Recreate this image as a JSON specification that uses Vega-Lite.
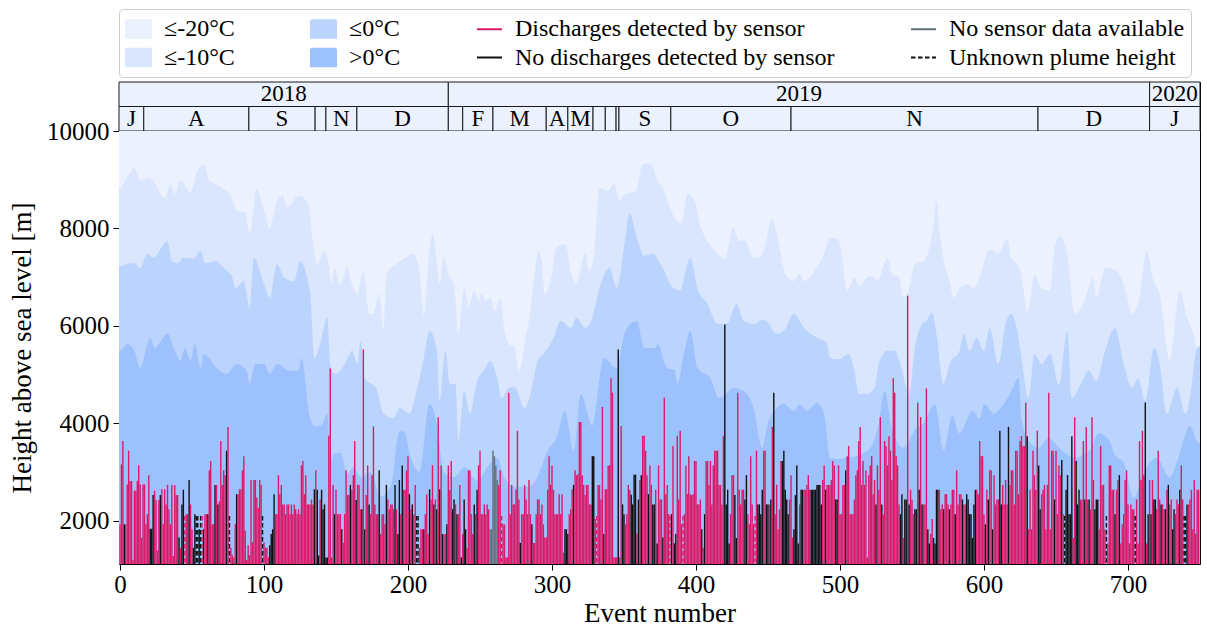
{
"$schema": "https://vega.github.io/schema/vega-lite/v6.json",
"padding": {"left": 8, "top": 8, "right": 5, "bottom": 0},
"background": "white",
"spacing": 0,
"bounds": "flush",
"datasets": {
"years": [{"s":-0.7,"e":228,"t":"2018"},{"s":228,"e":715,"t":"2019"},{"s":715,"e":750,"t":"2020"}],
"months": [{"s":-0.7,"e":16.5,"t":"J"},{"s":16.5,"e":89.5,"t":"A"},{"s":89.5,"e":135.5,"t":"S"},{"s":135.5,"e":143,"t":""},{"s":143,"e":164.5,"t":"N"},{"s":164.5,"e":228,"t":"D"},{"s":228,"e":238,"t":""},{"s":238,"e":259,"t":"F"},{"s":259,"e":296,"t":"M"},{"s":296,"e":311,"t":"A"},{"s":311,"e":328.5,"t":"M"},{"s":328.5,"e":337,"t":""},{"s":337,"e":344.5,"t":""},{"s":344.5,"e":346.5,"t":""},{"s":346.5,"e":382.5,"t":"S"},{"s":382.5,"e":466,"t":"O"},{"s":466,"e":637.5,"t":"N"},{"s":637.5,"e":715,"t":"D"},{"s":715,"e":750,"t":"J"}],
"t20": [{"x":-1,"h":8830},{"x":0,"h":8830},{"x":5,"h":9050},{"x":10,"h":9240},{"x":14,"h":8980},{"x":19,"h":9040},{"x":23,"h":8980},{"x":31,"h":8630},{"x":35,"h":8910},{"x":38,"h":8710},{"x":42,"h":8980},{"x":49,"h":8730},{"x":53,"h":9120},{"x":58,"h":9320},{"x":62,"h":8980},{"x":67,"h":8910},{"x":72,"h":8810},{"x":78,"h":8610},{"x":81,"h":8360},{"x":87,"h":8320},{"x":90,"h":7890},{"x":95,"h":8810},{"x":100,"h":8360},{"x":104,"h":8010},{"x":109,"h":8560},{"x":113,"h":8670},{"x":116,"h":8420},{"x":124,"h":8670},{"x":131,"h":8500},{"x":133,"h":7950},{"x":137,"h":7270},{"x":142,"h":7540},{"x":145,"h":7270},{"x":147,"h":6860},{"x":149,"h":7170},{"x":153,"h":6860},{"x":158,"h":7190},{"x":161,"h":6860},{"x":165,"h":6660},{"x":169,"h":7130},{"x":173,"h":6250},{"x":176,"h":6250},{"x":180,"h":6660},{"x":183,"h":5900},{"x":185,"h":7070},{"x":192,"h":7270},{"x":197,"h":7380},{"x":204,"h":7480},{"x":208,"h":7070},{"x":211,"h":6210},{"x":215,"h":7540},{"x":217,"h":7890},{"x":219,"h":7540},{"x":222,"h":6860},{"x":225,"h":7400},{"x":228,"h":7070},{"x":232,"h":6860},{"x":235,"h":5840},{"x":239,"h":6780},{"x":242,"h":6370},{"x":246,"h":6720},{"x":249,"h":6510},{"x":251,"h":6660},{"x":254,"h":6510},{"x":257,"h":6580},{"x":260,"h":6310},{"x":264,"h":6580},{"x":267,"h":5900},{"x":270,"h":5630},{"x":274,"h":5570},{"x":277,"h":5080},{"x":281,"h":5630},{"x":285,"h":6310},{"x":288,"h":7130},{"x":291,"h":7540},{"x":293,"h":7270},{"x":295,"h":6660},{"x":300,"h":7070},{"x":303,"h":7600},{"x":309,"h":7680},{"x":314,"h":6990},{"x":317,"h":6860},{"x":323,"h":7480},{"x":326,"h":7130},{"x":330,"h":7680},{"x":333,"h":8830},{"x":338,"h":8770},{"x":343,"h":8910},{"x":347,"h":8560},{"x":351,"h":8720},{"x":358,"h":8750},{"x":363,"h":9320},{"x":368,"h":9340},{"x":374,"h":8950},{"x":378,"h":8770},{"x":382,"h":8420},{"x":387,"h":8150},{"x":390,"h":8120},{"x":394,"h":8710},{"x":399,"h":8560},{"x":402,"h":8150},{"x":408,"h":7740},{"x":413,"h":7540},{"x":420,"h":7380},{"x":426,"h":8010},{"x":430,"h":7750},{"x":434,"h":7750},{"x":440,"h":7400},{"x":446,"h":7460},{"x":453,"h":8200},{"x":458,"h":7600},{"x":462,"h":7070},{"x":468,"h":6920},{"x":472,"h":7070},{"x":475,"h":6920},{"x":482,"h":7120},{"x":489,"h":7480},{"x":493,"h":7800},{"x":498,"h":7800},{"x":500,"h":7680},{"x":505,"h":6720},{"x":510,"h":6990},{"x":513,"h":6820},{"x":521,"h":7030},{"x":526,"h":6930},{"x":533,"h":7400},{"x":536,"h":7060},{"x":541,"h":6990},{"x":544,"h":6580},{"x":548,"h":6780},{"x":552,"h":7270},{"x":558,"h":7330},{"x":562,"h":7600},{"x":565,"h":8090},{"x":567,"h":8560},{"x":569,"h":7950},{"x":572,"h":7330},{"x":576,"h":6920},{"x":579,"h":6580},{"x":583,"h":6780},{"x":588,"h":6850},{"x":593,"h":6780},{"x":597,"h":6990},{"x":604,"h":7580},{"x":610,"h":7480},{"x":616,"h":7790},{"x":619,"h":7400},{"x":623,"h":7270},{"x":626,"h":7070},{"x":630,"h":6310},{"x":633,"h":6720},{"x":635,"h":7070},{"x":639,"h":6790},{"x":646,"h":6720},{"x":649,"h":7600},{"x":653,"h":7850},{"x":658,"h":7400},{"x":663,"h":6250},{"x":669,"h":6450},{"x":676,"h":6990},{"x":678,"h":6580},{"x":684,"h":7190},{"x":692,"h":7130},{"x":697,"h":6860},{"x":703,"h":6250},{"x":708,"h":6580},{"x":713,"h":7540},{"x":717,"h":6990},{"x":722,"h":6650},{"x":729,"h":5280},{"x":732,"h":5900},{"x":736,"h":6720},{"x":741,"h":6170},{"x":746,"h":5760},{"x":749,"h":5220},{"x":751,"h":5100}],
"t10": [{"x":-1,"h":7230},{"x":0,"h":7230},{"x":5,"h":7270},{"x":10,"h":7290},{"x":14,"h":7190},{"x":19,"h":7480},{"x":23,"h":7400},{"x":33,"h":7740},{"x":36,"h":7330},{"x":40,"h":7290},{"x":44,"h":7400},{"x":51,"h":7380},{"x":56,"h":7540},{"x":59,"h":7290},{"x":67,"h":7330},{"x":72,"h":7190},{"x":78,"h":6990},{"x":80,"h":6780},{"x":86,"h":6920},{"x":90,"h":6370},{"x":93,"h":7400},{"x":100,"h":6860},{"x":104,"h":6580},{"x":109,"h":7270},{"x":114,"h":6990},{"x":121,"h":6920},{"x":125,"h":7330},{"x":132,"h":6660},{"x":135,"h":5340},{"x":139,"h":5630},{"x":144,"h":6170},{"x":146,"h":5220},{"x":149,"h":5020},{"x":153,"h":5080},{"x":158,"h":5340},{"x":161,"h":5490},{"x":165,"h":5220},{"x":167,"h":5690},{"x":170,"h":4930},{"x":178,"h":4730},{"x":183,"h":4200},{"x":190,"h":4110},{"x":194,"h":4320},{"x":201,"h":4200},{"x":206,"h":4670},{"x":211,"h":5340},{"x":215,"h":5900},{"x":220,"h":5490},{"x":222,"h":4460},{"x":226,"h":5490},{"x":229,"h":4810},{"x":233,"h":4810},{"x":235,"h":3640},{"x":239,"h":4670},{"x":243,"h":4200},{"x":248,"h":4870},{"x":253,"h":5100},{"x":257,"h":5280},{"x":262,"h":4930},{"x":265,"h":4520},{"x":270,"h":4730},{"x":274,"h":4750},{"x":281,"h":4320},{"x":285,"h":4600},{"x":290,"h":5280},{"x":294,"h":5420},{"x":301,"h":5760},{"x":306,"h":6100},{"x":313,"h":5960},{"x":317,"h":6170},{"x":323,"h":5960},{"x":328,"h":6170},{"x":333,"h":6780},{"x":340,"h":7190},{"x":345,"h":6780},{"x":350,"h":7600},{"x":354,"h":8300},{"x":359,"h":7800},{"x":364,"h":7440},{"x":371,"h":7480},{"x":374,"h":7330},{"x":378,"h":7130},{"x":382,"h":6860},{"x":387,"h":6740},{"x":389,"h":6720},{"x":394,"h":7270},{"x":396,"h":7400},{"x":401,"h":6780},{"x":408,"h":6450},{"x":415,"h":6040},{"x":422,"h":6060},{"x":428,"h":6450},{"x":433,"h":6120},{"x":440,"h":6040},{"x":446,"h":6130},{"x":449,"h":6100},{"x":456,"h":5840},{"x":461,"h":5900},{"x":468,"h":6250},{"x":475,"h":5960},{"x":484,"h":5760},{"x":491,"h":5640},{"x":493,"h":5340},{"x":499,"h":5320},{"x":506,"h":5420},{"x":510,"h":5080},{"x":513,"h":4610},{"x":519,"h":4610},{"x":524,"h":4740},{"x":527,"h":5220},{"x":533,"h":5490},{"x":538,"h":5490},{"x":542,"h":5220},{"x":548,"h":4610},{"x":552,"h":5550},{"x":557,"h":6040},{"x":560,"h":6100},{"x":564,"h":6270},{"x":567,"h":5830},{"x":572,"h":4810},{"x":576,"h":5220},{"x":583,"h":5490},{"x":586,"h":5840},{"x":590,"h":5490},{"x":595,"h":5760},{"x":600,"h":5490},{"x":604,"h":5960},{"x":610,"h":5220},{"x":615,"h":6040},{"x":619,"h":6250},{"x":623,"h":5900},{"x":626,"h":5350},{"x":631,"h":4520},{"x":635,"h":5430},{"x":640,"h":5220},{"x":646,"h":5430},{"x":652,"h":4800},{"x":658,"h":5900},{"x":661,"h":4520},{"x":667,"h":4800},{"x":673,"h":5080},{"x":678,"h":4870},{"x":684,"h":5490},{"x":691,"h":5960},{"x":697,"h":5220},{"x":703,"h":4730},{"x":707,"h":4930},{"x":712,"h":4460},{"x":718,"h":5550},{"x":722,"h":5220},{"x":727,"h":4200},{"x":734,"h":4730},{"x":740,"h":4200},{"x":743,"h":4530},{"x":748,"h":5550},{"x":751,"h":5600}],
"t0": [{"x":-1,"h":5490},{"x":0,"h":5490},{"x":5,"h":5630},{"x":10,"h":5490},{"x":14,"h":5140},{"x":21,"h":5760},{"x":24,"h":5550},{"x":33,"h":5840},{"x":38,"h":5490},{"x":42,"h":5280},{"x":45,"h":5550},{"x":49,"h":5280},{"x":52,"h":5630},{"x":56,"h":5140},{"x":58,"h":5430},{"x":62,"h":5340},{"x":67,"h":5140},{"x":74,"h":5020},{"x":81,"h":5220},{"x":88,"h":5080},{"x":90,"h":4810},{"x":94,"h":5220},{"x":100,"h":5220},{"x":104,"h":5020},{"x":109,"h":5220},{"x":118,"h":5080},{"x":124,"h":5080},{"x":126,"h":5340},{"x":132,"h":4110},{"x":135,"h":3950},{"x":140,"h":3970},{"x":144,"h":4200},{"x":146,"h":3230},{"x":149,"h":3380},{"x":153,"h":3400},{"x":158,"h":2970},{"x":162,"h":3100},{"x":167,"h":2900},{"x":174,"h":3000},{"x":181,"h":2500},{"x":188,"h":2700},{"x":194,"h":3840},{"x":197,"h":3840},{"x":202,"h":3300},{"x":208,"h":3000},{"x":215,"h":4400},{"x":220,"h":4000},{"x":225,"h":3000},{"x":232,"h":2900},{"x":239,"h":3100},{"x":248,"h":2820},{"x":255,"h":3100},{"x":262,"h":3300},{"x":267,"h":2900},{"x":274,"h":2700},{"x":283,"h":2700},{"x":288,"h":2800},{"x":297,"h":3440},{"x":303,"h":3700},{"x":309,"h":4260},{"x":315,"h":3440},{"x":320,"h":4600},{"x":328,"h":3950},{"x":336,"h":5340},{"x":345,"h":5140},{"x":351,"h":5900},{"x":359,"h":6100},{"x":364,"h":5550},{"x":371,"h":5550},{"x":374,"h":5630},{"x":377,"h":5340},{"x":380,"h":5140},{"x":385,"h":5100},{"x":387,"h":4810},{"x":392,"h":5490},{"x":396,"h":5900},{"x":401,"h":5140},{"x":410,"h":4930},{"x":416,"h":4520},{"x":419,"h":4560},{"x":426,"h":4730},{"x":433,"h":4670},{"x":440,"h":4320},{"x":446,"h":3500},{"x":449,"h":3900},{"x":456,"h":4320},{"x":461,"h":4400},{"x":468,"h":4260},{"x":472,"h":4400},{"x":477,"h":4260},{"x":484,"h":4420},{"x":489,"h":4200},{"x":493,"h":3290},{"x":499,"h":3270},{"x":506,"h":3300},{"x":517,"h":3400},{"x":521,"h":3500},{"x":527,"h":4000},{"x":531,"h":4670},{"x":536,"h":3900},{"x":544,"h":3500},{"x":553,"h":3900},{"x":558,"h":4000},{"x":566,"h":4400},{"x":572,"h":3440},{"x":578,"h":4160},{"x":583,"h":3800},{"x":592,"h":4260},{"x":597,"h":4100},{"x":600,"h":4400},{"x":607,"h":4200},{"x":611,"h":4300},{"x":618,"h":4610},{"x":624,"h":4930},{"x":626,"h":4100},{"x":631,"h":3640},{"x":638,"h":3500},{"x":645,"h":3700},{"x":652,"h":3500},{"x":663,"h":3300},{"x":673,"h":3440},{"x":680,"h":3800},{"x":687,"h":3640},{"x":691,"h":3350},{"x":697,"h":3200},{"x":704,"h":2470},{"x":711,"h":3000},{"x":720,"h":3290},{"x":729,"h":2900},{"x":735,"h":3300},{"x":743,"h":3950},{"x":749,"h":3600},{"x":751,"h":3600}],
"bars": [
{"x":0,"h":1930,"c":"p"},{"x":1,"h":3160,"c":"p"},{"x":2,"h":3640,"c":"p"},{"x":3,"h":1930,"c":"k"},{"x":4,"h":1930,"c":"p"},{"x":5,"h":2750,"c":"p"},{"x":6,"h":3440,"c":"p"},{"x":7,"h":2820,"c":"p"},{"x":8,"h":2820,"c":"p"},{"x":9,"h":1200,"c":"p"},
{"x":10,"h":2620,"c":"p"},{"x":11,"h":2620,"c":"p"},{"x":12,"h":2820,"c":"p"},{"x":13,"h":3140,"c":"p"},{"x":14,"h":2750,"c":"p"},{"x":15,"h":1660,"c":"p"},{"x":16,"h":2750,"c":"p"},{"x":17,"h":2750,"c":"p"},{"x":18,"h":1930,"c":"p"},{"x":19,"h":2140,"c":"p"},
{"x":20,"h":2940,"c":"p"},{"x":21,"h":1840,"c":"k"},{"x":22,"h":1840,"c":"k"},{"x":23,"h":2530,"c":"k"},{"x":24,"h":2620,"c":"p"},{"x":25,"h":2430,"c":"p"},{"x":26,"h":1390,"c":"p"},{"x":27,"h":2430,"c":"p"},{"x":28,"h":2530,"c":"k"},{"x":29,"h":2650,"c":"p"},
{"x":30,"h":1930,"c":"p"},{"x":31,"h":2650,"c":"p"},{"x":32,"h":2340,"c":"p"},{"x":33,"h":2740,"c":"p"},{"x":34,"h":2240,"c":"p"},{"x":35,"h":1930,"c":"p"},{"x":36,"h":2740,"c":"p"},{"x":37,"h":1280,"c":"p"},{"x":38,"h":2740,"c":"p"},{"x":39,"h":2530,"c":"p"},
{"x":40,"h":2530,"c":"p"},{"x":41,"h":1660,"c":"k"},{"x":42,"h":1450,"c":"p"},{"x":43,"h":2340,"c":"k"},{"x":44,"h":2640,"c":"k"},{"x":45,"h":2100,"c":"p","u":1},{"x":46,"h":2140,"c":"p"},{"x":47,"h":2140,"c":"p"},{"x":48,"h":2840,"c":"k"},{"x":49,"h":2340,"c":"p"},
{"x":50,"h":1830,"c":"p"},{"x":51,"h":1450,"c":"k"},{"x":52,"h":2140,"c":"k"},{"x":53,"h":2100,"c":"k","u":1},{"x":54,"h":2100,"c":"k","u":1},{"x":55,"h":1830,"c":"k"},{"x":56,"h":2100,"c":"k","u":1},{"x":57,"h":2100,"c":"p","u":1},{"x":58,"h":1830,"c":"k"},{"x":59,"h":2140,"c":"p"},
{"x":60,"h":2140,"c":"p"},{"x":61,"h":2140,"c":"k"},{"x":62,"h":3040,"c":"p"},{"x":63,"h":3230,"c":"p"},{"x":64,"h":1930,"c":"p"},{"x":65,"h":1930,"c":"p"},{"x":66,"h":2740,"c":"k"},{"x":67,"h":2740,"c":"p"},{"x":68,"h":2340,"c":"k"},{"x":69,"h":2400,"c":"p"},
{"x":70,"h":3640,"c":"p"},{"x":71,"h":2740,"c":"p"},{"x":72,"h":3040,"c":"p"},{"x":73,"h":2940,"c":"p"},{"x":74,"h":3440,"c":"k"},{"x":75,"h":3930,"c":"p"},{"x":76,"h":2100,"c":"k","u":1},{"x":77,"h":1450,"c":"p"},{"x":78,"h":1300,"c":"p"},{"x":79,"h":1250,"c":"p"},
{"x":80,"h":1930,"c":"p"},{"x":81,"h":2550,"c":"k"},{"x":82,"h":2550,"c":"p"},{"x":83,"h":2650,"c":"p"},{"x":84,"h":2650,"c":"p"},{"x":85,"h":3040,"c":"p"},{"x":86,"h":3330,"c":"p"},{"x":87,"h":1800,"c":"p"},{"x":88,"h":1200,"c":"p"},{"x":89,"h":1500,"c":"p"},
{"x":90,"h":1300,"c":"p"},{"x":91,"h":2840,"c":"p"},{"x":92,"h":1560,"c":"p"},{"x":93,"h":2840,"c":"p"},{"x":94,"h":2840,"c":"p"},{"x":95,"h":2480,"c":"p"},{"x":96,"h":2270,"c":"p"},{"x":97,"h":2840,"c":"p"},{"x":98,"h":2740,"c":"p"},{"x":99,"h":2100,"c":"k","u":1},
{"x":100,"h":1560,"c":"p"},{"x":101,"h":1450,"c":"p"},{"x":102,"h":1450,"c":"p"},{"x":103,"h":1250,"c":"p"},{"x":104,"h":1500,"c":"k"},{"x":105,"h":1730,"c":"k"},{"x":106,"h":1830,"c":"k"},{"x":107,"h":2550,"c":"k"},{"x":108,"h":2140,"c":"p"},{"x":109,"h":2140,"c":"p"},
{"x":110,"h":2940,"c":"p"},{"x":111,"h":2550,"c":"p"},{"x":112,"h":2740,"c":"p"},{"x":113,"h":2340,"c":"p"},{"x":114,"h":2340,"c":"p"},{"x":115,"h":2140,"c":"p"},{"x":116,"h":2340,"c":"p"},{"x":117,"h":2340,"c":"p"},{"x":118,"h":2140,"c":"p"},{"x":119,"h":2340,"c":"p"},
{"x":120,"h":2140,"c":"p"},{"x":121,"h":2340,"c":"p"},{"x":122,"h":2240,"c":"p"},{"x":123,"h":2140,"c":"p"},{"x":124,"h":2240,"c":"p"},{"x":125,"h":2140,"c":"p"},{"x":126,"h":3140,"c":"p"},{"x":127,"h":3230,"c":"p"},{"x":128,"h":2550,"c":"p"},{"x":129,"h":2940,"c":"p"},
{"x":130,"h":2340,"c":"p"},{"x":131,"h":2340,"c":"p"},{"x":132,"h":2340,"c":"p"},{"x":133,"h":2440,"c":"p"},{"x":134,"h":2340,"c":"p"},{"x":135,"h":2650,"c":"k"},{"x":136,"h":3040,"c":"p"},{"x":137,"h":2640,"c":"k"},{"x":138,"h":1290,"c":"k"},{"x":139,"h":2440,"c":"p"},
{"x":140,"h":2640,"c":"k"},{"x":141,"h":2240,"c":"k"},{"x":142,"h":2340,"c":"k"},{"x":143,"h":1250,"c":"k"},{"x":144,"h":1250,"c":"k"},{"x":145,"h":3750,"c":"p"},{"x":146,"h":5130,"c":"p"},{"x":147,"h":1250,"c":"p"},{"x":148,"h":2740,"c":"p"},{"x":149,"h":2140,"c":"k"},
{"x":150,"h":2640,"c":"p"},{"x":151,"h":2140,"c":"p"},{"x":152,"h":2140,"c":"p"},{"x":153,"h":2140,"c":"p"},{"x":154,"h":1830,"c":"k"},{"x":155,"h":1550,"c":"p"},{"x":156,"h":2140,"c":"p"},{"x":157,"h":3040,"c":"p"},{"x":158,"h":2530,"c":"p"},{"x":159,"h":2530,"c":"p"},
{"x":160,"h":2740,"c":"k"},{"x":161,"h":2640,"c":"p"},{"x":162,"h":2940,"c":"p"},{"x":163,"h":3640,"c":"p"},{"x":164,"h":2430,"c":"k"},{"x":165,"h":2740,"c":"p"},{"x":166,"h":2740,"c":"p"},{"x":167,"h":2240,"c":"p"},{"x":168,"h":2240,"c":"k"},{"x":169,"h":5520,"c":"p"},
{"x":170,"h":1830,"c":"k"},{"x":171,"h":2530,"c":"p"},{"x":172,"h":3140,"c":"p"},{"x":173,"h":2340,"c":"k"},{"x":174,"h":2140,"c":"p"},{"x":175,"h":2940,"c":"p"},{"x":176,"h":3940,"c":"p"},{"x":177,"h":2340,"c":"p"},{"x":178,"h":2140,"c":"p"},{"x":179,"h":2140,"c":"p"},
{"x":180,"h":3040,"c":"k"},{"x":181,"h":1730,"c":"p"},{"x":182,"h":2140,"c":"p"},{"x":183,"h":2140,"c":"p"},{"x":184,"h":1930,"c":"p"},{"x":185,"h":2740,"c":"k"},{"x":186,"h":2440,"c":"p"},{"x":187,"h":2240,"c":"p"},{"x":188,"h":2340,"c":"p"},{"x":189,"h":2340,"c":"p"},
{"x":190,"h":2240,"c":"p"},{"x":191,"h":2740,"c":"k"},{"x":192,"h":2240,"c":"p"},{"x":193,"h":1730,"c":"k"},{"x":194,"h":2840,"c":"k"},{"x":195,"h":2140,"c":"p"},{"x":196,"h":3140,"c":"k"},{"x":197,"h":2640,"c":"p"},{"x":198,"h":2640,"c":"p"},{"x":199,"h":3040,"c":"p"},
{"x":200,"h":3330,"c":"p"},{"x":201,"h":2550,"c":"k"},{"x":202,"h":2240,"c":"p"},{"x":203,"h":2340,"c":"k"},{"x":204,"h":2140,"c":"p"},{"x":205,"h":2740,"c":"p"},{"x":206,"h":2100,"c":"k","u":1},{"x":207,"h":2100,"c":"k","u":1},{"x":208,"h":1450,"c":"p"},{"x":209,"h":1830,"c":"p"},
{"x":210,"h":1830,"c":"p"},{"x":211,"h":1830,"c":"k"},{"x":212,"h":2140,"c":"p"},{"x":213,"h":2550,"c":"p"},{"x":214,"h":1730,"c":"p"},{"x":215,"h":2650,"c":"k"},{"x":216,"h":2440,"c":"p"},{"x":217,"h":3140,"c":"p"},{"x":218,"h":2340,"c":"k"},{"x":219,"h":2440,"c":"p"},
{"x":220,"h":2240,"c":"k"},{"x":221,"h":4130,"c":"p"},{"x":222,"h":2650,"c":"k"},{"x":223,"h":3140,"c":"p"},{"x":224,"h":1730,"c":"k"},{"x":225,"h":1730,"c":"p"},{"x":226,"h":1730,"c":"p"},{"x":227,"h":1930,"c":"k"},{"x":228,"h":3140,"c":"p"},{"x":229,"h":2640,"c":"p"},
{"x":230,"h":3230,"c":"p"},{"x":231,"h":2240,"c":"k"},{"x":232,"h":2440,"c":"k"},{"x":233,"h":2340,"c":"p"},{"x":234,"h":2140,"c":"k"},{"x":235,"h":2140,"c":"p"},{"x":236,"h":2740,"c":"p"},{"x":237,"h":1250,"c":"k"},{"x":238,"h":1730,"c":"p"},{"x":239,"h":2440,"c":"k"},
{"x":240,"h":1830,"c":"k"},{"x":241,"h":1450,"c":"p"},{"x":242,"h":3040,"c":"p"},{"x":243,"h":3040,"c":"p"},{"x":244,"h":2140,"c":"p"},{"x":245,"h":1730,"c":"p"},{"x":246,"h":2340,"c":"k"},{"x":247,"h":2140,"c":"p"},{"x":248,"h":2640,"c":"k"},{"x":249,"h":3140,"c":"p"},
{"x":250,"h":3440,"c":"p"},{"x":251,"h":2140,"c":"p"},{"x":252,"h":2140,"c":"p"},{"x":253,"h":2340,"c":"p"},{"x":254,"h":2140,"c":"p"},{"x":255,"h":2340,"c":"p"},{"x":256,"h":2240,"c":"p"},{"x":257,"h":1830,"c":"g"},{"x":258,"h":1830,"c":"g"},{"x":259,"h":3440,"c":"g"},
{"x":260,"h":3330,"c":"g"},{"x":261,"h":3140,"c":"g"},{"x":262,"h":2840,"c":"g"},{"x":263,"h":2740,"c":"p"},{"x":264,"h":3040,"c":"p"},{"x":265,"h":2100,"c":"p","u":1},{"x":266,"h":1930,"c":"p"},{"x":267,"h":1930,"c":"p"},{"x":268,"h":1250,"c":"p"},{"x":269,"h":1250,"c":"p"},
{"x":270,"h":4630,"c":"p"},{"x":271,"h":2140,"c":"p"},{"x":272,"h":2740,"c":"p"},{"x":273,"h":2340,"c":"p"},{"x":274,"h":2340,"c":"p"},{"x":275,"h":2640,"c":"p"},{"x":276,"h":3850,"c":"p"},{"x":277,"h":2440,"c":"p"},{"x":278,"h":1550,"c":"k"},{"x":279,"h":2140,"c":"p"},
{"x":280,"h":2140,"c":"p"},{"x":281,"h":2740,"c":"p"},{"x":282,"h":2440,"c":"p"},{"x":283,"h":2140,"c":"p"},{"x":284,"h":2840,"c":"p"},{"x":285,"h":2140,"c":"p"},{"x":286,"h":1930,"c":"k"},{"x":287,"h":1550,"c":"p"},{"x":288,"h":1550,"c":"p"},{"x":289,"h":2140,"c":"p"},
{"x":290,"h":2440,"c":"p"},{"x":291,"h":2440,"c":"p"},{"x":292,"h":2140,"c":"p"},{"x":293,"h":2340,"c":"p"},{"x":294,"h":1930,"c":"p"},{"x":295,"h":1660,"c":"p"},{"x":296,"h":1660,"c":"p"},{"x":297,"h":2640,"c":"p"},{"x":298,"h":3330,"c":"p"},{"x":299,"h":2740,"c":"p"},
{"x":300,"h":3140,"c":"p"},{"x":301,"h":2640,"c":"p"},{"x":302,"h":2140,"c":"p"},{"x":303,"h":2140,"c":"p"},{"x":304,"h":2140,"c":"p"},{"x":305,"h":2550,"c":"p"},{"x":306,"h":2140,"c":"p"},{"x":307,"h":2550,"c":"p"},{"x":308,"h":1350,"c":"p"},{"x":309,"h":1830,"c":"k"},
{"x":310,"h":1830,"c":"k"},{"x":311,"h":1730,"c":"k"},{"x":312,"h":2140,"c":"p"},{"x":313,"h":2240,"c":"p"},{"x":314,"h":2650,"c":"p"},{"x":315,"h":2740,"c":"k"},{"x":316,"h":3040,"c":"p"},{"x":317,"h":2940,"c":"p"},{"x":318,"h":2960,"c":"p"},{"x":319,"h":4030,"c":"p"},
{"x":320,"h":4030,"c":"p"},{"x":321,"h":2940,"c":"p"},{"x":322,"h":2740,"c":"p"},{"x":323,"h":2530,"c":"p"},{"x":324,"h":2740,"c":"p"},{"x":325,"h":2740,"c":"p"},{"x":326,"h":2340,"c":"p"},{"x":327,"h":2340,"c":"p"},{"x":328,"h":3330,"c":"k"},{"x":329,"h":3330,"c":"k"},
{"x":330,"h":2040,"c":"p"},{"x":331,"h":2100,"c":"p","u":1},{"x":332,"h":2740,"c":"p"},{"x":333,"h":2740,"c":"p"},{"x":334,"h":2440,"c":"p"},{"x":335,"h":4340,"c":"p"},{"x":336,"h":1730,"c":"k"},{"x":337,"h":2650,"c":"p"},{"x":338,"h":2650,"c":"p"},{"x":339,"h":3140,"c":"p"},
{"x":340,"h":3140,"c":"p"},{"x":341,"h":4930,"c":"p"},{"x":342,"h":4630,"c":"p"},{"x":343,"h":1250,"c":"p"},{"x":344,"h":1250,"c":"p"},{"x":345,"h":1250,"c":"p"},{"x":346,"h":5520,"c":"k"},{"x":347,"h":1250,"c":"p"},{"x":348,"h":3950,"c":"p"},{"x":349,"h":2340,"c":"k"},
{"x":350,"h":2140,"c":"k"},{"x":351,"h":1930,"c":"p"},{"x":352,"h":2140,"c":"p"},{"x":353,"h":2740,"c":"p"},{"x":354,"h":2640,"c":"p"},{"x":355,"h":2540,"c":"k"},{"x":356,"h":2340,"c":"k"},{"x":357,"h":2950,"c":"k"},{"x":358,"h":2950,"c":"k"},{"x":359,"h":1740,"c":"p"},
{"x":360,"h":2440,"c":"k"},{"x":361,"h":2840,"c":"p"},{"x":362,"h":2940,"c":"k"},{"x":363,"h":3750,"c":"p"},{"x":364,"h":3750,"c":"p"},{"x":365,"h":3440,"c":"p"},{"x":366,"h":2940,"c":"p"},{"x":367,"h":2550,"c":"k"},{"x":368,"h":3140,"c":"p"},{"x":369,"h":2740,"c":"p"},
{"x":370,"h":2340,"c":"k"},{"x":371,"h":2340,"c":"k"},{"x":372,"h":2640,"c":"p"},{"x":373,"h":1540,"c":"k"},{"x":374,"h":3140,"c":"p"},{"x":375,"h":2440,"c":"p"},{"x":376,"h":2440,"c":"p"},{"x":377,"h":1660,"c":"k"},{"x":378,"h":4530,"c":"p"},{"x":379,"h":2550,"c":"p"},
{"x":380,"h":2740,"c":"p"},{"x":381,"h":2140,"c":"p"},{"x":382,"h":2100,"c":"p","u":1},{"x":383,"h":2140,"c":"k"},{"x":384,"h":3540,"c":"p"},{"x":385,"h":1540,"c":"k"},{"x":386,"h":1730,"c":"k"},{"x":387,"h":3750,"c":"p"},{"x":388,"h":2440,"c":"p"},{"x":389,"h":3850,"c":"p"},
{"x":390,"h":1930,"c":"p"},{"x":391,"h":2100,"c":"p","u":1},{"x":392,"h":2140,"c":"p"},{"x":393,"h":3140,"c":"p"},{"x":394,"h":2550,"c":"p"},{"x":395,"h":3330,"c":"p"},{"x":396,"h":2550,"c":"p"},{"x":397,"h":2530,"c":"p"},{"x":398,"h":2550,"c":"p"},{"x":399,"h":3230,"c":"p"},
{"x":400,"h":3230,"c":"p"},{"x":401,"h":2340,"c":"p"},{"x":402,"h":2340,"c":"p"},{"x":403,"h":2440,"c":"p"},{"x":404,"h":1830,"c":"k"},{"x":405,"h":1450,"c":"p"},{"x":406,"h":2140,"c":"k"},{"x":407,"h":3230,"c":"p"},{"x":408,"h":3230,"c":"p"},{"x":409,"h":2740,"c":"p"},
{"x":410,"h":3230,"c":"p"},{"x":411,"h":2340,"c":"p"},{"x":412,"h":3140,"c":"p"},{"x":413,"h":3440,"c":"p"},{"x":414,"h":3440,"c":"p"},{"x":415,"h":3440,"c":"p"},{"x":416,"h":2740,"c":"p"},{"x":417,"h":2740,"c":"p"},{"x":418,"h":2340,"c":"p"},{"x":419,"h":3740,"c":"p"},
{"x":420,"h":6030,"c":"k"},{"x":421,"h":2340,"c":"k"},{"x":422,"h":2640,"c":"k"},{"x":423,"h":1540,"c":"k"},{"x":424,"h":2140,"c":"p"},{"x":425,"h":2940,"c":"p"},{"x":426,"h":2940,"c":"p"},{"x":427,"h":2530,"c":"k"},{"x":428,"h":1650,"c":"k"},{"x":429,"h":4630,"c":"p"},
{"x":430,"h":2640,"c":"p"},{"x":431,"h":2340,"c":"p"},{"x":432,"h":2640,"c":"p"},{"x":433,"h":2640,"c":"p"},{"x":434,"h":2440,"c":"k"},{"x":435,"h":2940,"c":"k"},{"x":436,"h":2140,"c":"p"},{"x":437,"h":1930,"c":"p"},{"x":438,"h":3330,"c":"p"},{"x":439,"h":2340,"c":"p"},
{"x":440,"h":1930,"c":"p"},{"x":441,"h":2100,"c":"p","u":1},{"x":442,"h":3440,"c":"p"},{"x":443,"h":2340,"c":"k"},{"x":444,"h":2340,"c":"k"},{"x":445,"h":2140,"c":"k"},{"x":446,"h":2640,"c":"k"},{"x":447,"h":3440,"c":"p"},{"x":448,"h":3440,"c":"p"},{"x":449,"h":2340,"c":"k"},
{"x":450,"h":2340,"c":"k"},{"x":451,"h":2340,"c":"p"},{"x":452,"h":2440,"c":"k"},{"x":453,"h":3930,"c":"p"},{"x":454,"h":4630,"c":"k"},{"x":455,"h":2140,"c":"p"},{"x":456,"h":2740,"c":"p"},{"x":457,"h":1830,"c":"p"},{"x":458,"h":2240,"c":"p"},{"x":459,"h":3230,"c":"p"},
{"x":460,"h":3230,"c":"k"},{"x":461,"h":3440,"c":"k"},{"x":462,"h":2640,"c":"k"},{"x":463,"h":2440,"c":"k"},{"x":464,"h":2140,"c":"k"},{"x":465,"h":2440,"c":"p"},{"x":466,"h":2940,"c":"p"},{"x":467,"h":1660,"c":"p"},{"x":468,"h":1830,"c":"k"},{"x":469,"h":2530,"c":"k"},
{"x":470,"h":3140,"c":"k"},{"x":471,"h":1540,"c":"k"},{"x":472,"h":2340,"c":"p"},{"x":473,"h":2640,"c":"k"},{"x":474,"h":2640,"c":"k"},{"x":475,"h":2640,"c":"p"},{"x":476,"h":2640,"c":"p"},{"x":477,"h":2740,"c":"p"},{"x":478,"h":2940,"c":"p"},{"x":479,"h":2640,"c":"p"},
{"x":480,"h":2640,"c":"k"},{"x":481,"h":2640,"c":"k"},{"x":482,"h":2640,"c":"k"},{"x":483,"h":2640,"c":"k"},{"x":484,"h":2740,"c":"k"},{"x":485,"h":2740,"c":"k"},{"x":486,"h":2740,"c":"k"},{"x":487,"h":2340,"c":"k"},{"x":488,"h":2840,"c":"p"},{"x":489,"h":3140,"c":"p"},
{"x":490,"h":2640,"c":"k"},{"x":491,"h":2740,"c":"p"},{"x":492,"h":2740,"c":"p"},{"x":493,"h":2740,"c":"p"},{"x":494,"h":2840,"c":"p"},{"x":495,"h":3230,"c":"p"},{"x":496,"h":3140,"c":"p"},{"x":497,"h":2440,"c":"k"},{"x":498,"h":2440,"c":"k"},{"x":499,"h":3140,"c":"p"},
{"x":500,"h":2140,"c":"p"},{"x":501,"h":2140,"c":"p"},{"x":502,"h":2740,"c":"p"},{"x":503,"h":2740,"c":"p"},{"x":504,"h":3040,"c":"k"},{"x":505,"h":3330,"c":"p"},{"x":506,"h":3540,"c":"p"},{"x":507,"h":2140,"c":"p"},{"x":508,"h":2140,"c":"p"},{"x":509,"h":2140,"c":"p"},
{"x":510,"h":2440,"c":"p"},{"x":511,"h":2940,"c":"p"},{"x":512,"h":3040,"c":"p"},{"x":513,"h":3640,"c":"p"},{"x":514,"h":3930,"c":"p"},{"x":515,"h":2740,"c":"p"},{"x":516,"h":3230,"c":"p"},{"x":517,"h":2740,"c":"p"},{"x":518,"h":3040,"c":"p"},{"x":519,"h":1250,"c":"p"},
{"x":520,"h":2940,"c":"p"},{"x":521,"h":3140,"c":"p"},{"x":522,"h":3330,"c":"p"},{"x":523,"h":2550,"c":"p"},{"x":524,"h":2840,"c":"p"},{"x":525,"h":2340,"c":"k"},{"x":526,"h":3140,"c":"p"},{"x":527,"h":2640,"c":"p"},{"x":528,"h":4130,"c":"p"},{"x":529,"h":2340,"c":"k"},
{"x":530,"h":2140,"c":"p"},{"x":531,"h":3640,"c":"p"},{"x":532,"h":3540,"c":"p"},{"x":533,"h":3140,"c":"p"},{"x":534,"h":3740,"c":"p"},{"x":535,"h":3440,"c":"p"},{"x":536,"h":2840,"c":"p"},{"x":537,"h":4930,"c":"p"},{"x":538,"h":4630,"c":"p"},{"x":539,"h":3330,"c":"p"},
{"x":540,"h":3140,"c":"p"},{"x":541,"h":2340,"c":"p"},{"x":542,"h":2140,"c":"k"},{"x":543,"h":2550,"c":"k"},{"x":544,"h":1650,"c":"p"},{"x":545,"h":2440,"c":"k"},{"x":546,"h":2440,"c":"k"},{"x":547,"h":6620,"c":"p"},{"x":548,"h":2340,"c":"k"},{"x":549,"h":2640,"c":"p"},
{"x":550,"h":2440,"c":"p"},{"x":551,"h":2140,"c":"p"},{"x":552,"h":2240,"c":"k"},{"x":553,"h":2240,"c":"k"},{"x":554,"h":4430,"c":"p"},{"x":555,"h":2640,"c":"k"},{"x":556,"h":4130,"c":"p"},{"x":557,"h":2340,"c":"k"},{"x":558,"h":2340,"c":"p"},{"x":559,"h":2340,"c":"p"},
{"x":560,"h":4720,"c":"p"},{"x":561,"h":1830,"c":"k"},{"x":562,"h":1540,"c":"k"},{"x":563,"h":1730,"c":"p"},{"x":564,"h":2040,"c":"p"},{"x":565,"h":1650,"c":"k"},{"x":566,"h":1540,"c":"k"},{"x":567,"h":2640,"c":"k"},{"x":568,"h":2640,"c":"k"},{"x":569,"h":2640,"c":"p"},
{"x":570,"h":2240,"c":"p"},{"x":571,"h":2340,"c":"p"},{"x":572,"h":2240,"c":"k"},{"x":573,"h":2550,"c":"p"},{"x":574,"h":2550,"c":"p"},{"x":575,"h":2340,"c":"p"},{"x":576,"h":2240,"c":"k"},{"x":577,"h":2340,"c":"p"},{"x":578,"h":2640,"c":"p"},{"x":579,"h":2640,"c":"p"},
{"x":580,"h":2140,"c":"k"},{"x":581,"h":3040,"c":"p"},{"x":582,"h":2340,"c":"p"},{"x":583,"h":2550,"c":"p"},{"x":584,"h":2550,"c":"p"},{"x":585,"h":2440,"c":"k"},{"x":586,"h":2340,"c":"p"},{"x":587,"h":2340,"c":"p"},{"x":588,"h":2550,"c":"k"},{"x":589,"h":2440,"c":"k"},
{"x":590,"h":2140,"c":"k"},{"x":591,"h":2140,"c":"k"},{"x":592,"h":1650,"c":"k"},{"x":593,"h":2340,"c":"k"},{"x":594,"h":2640,"c":"k"},{"x":595,"h":2640,"c":"p"},{"x":596,"h":2550,"c":"p"},{"x":597,"h":3640,"c":"p"},{"x":598,"h":3330,"c":"p"},{"x":599,"h":3330,"c":"p"},
{"x":600,"h":2140,"c":"p"},{"x":601,"h":1930,"c":"k"},{"x":602,"h":2640,"c":"p"},{"x":603,"h":2440,"c":"k"},{"x":604,"h":3040,"c":"p"},{"x":605,"h":3040,"c":"p"},{"x":606,"h":1830,"c":"k"},{"x":607,"h":2940,"c":"p"},{"x":608,"h":2340,"c":"p"},{"x":609,"h":2440,"c":"p"},
{"x":610,"h":2440,"c":"p"},{"x":611,"h":3850,"c":"k"},{"x":612,"h":2340,"c":"k"},{"x":613,"h":2740,"c":"p"},{"x":614,"h":2340,"c":"p"},{"x":615,"h":2840,"c":"p"},{"x":616,"h":2340,"c":"p"},{"x":617,"h":3930,"c":"k"},{"x":618,"h":2740,"c":"p"},{"x":619,"h":3040,"c":"p"},
{"x":620,"h":3040,"c":"p"},{"x":621,"h":2340,"c":"p"},{"x":622,"h":3440,"c":"p"},{"x":623,"h":3440,"c":"p"},{"x":624,"h":2550,"c":"p"},{"x":625,"h":3640,"c":"p"},{"x":626,"h":3740,"c":"p"},{"x":627,"h":3540,"c":"p"},{"x":628,"h":3540,"c":"p"},{"x":629,"h":4430,"c":"p"},
{"x":630,"h":3740,"c":"k"},{"x":631,"h":1830,"c":"p"},{"x":632,"h":2640,"c":"p"},{"x":633,"h":1830,"c":"p"},{"x":634,"h":3440,"c":"p"},{"x":635,"h":2940,"c":"p"},{"x":636,"h":2640,"c":"p"},{"x":637,"h":3850,"c":"p"},{"x":638,"h":3140,"c":"k"},{"x":639,"h":2240,"c":"k"},
{"x":640,"h":2550,"c":"p"},{"x":641,"h":2640,"c":"p"},{"x":642,"h":2740,"c":"p"},{"x":643,"h":1830,"c":"p"},{"x":644,"h":2740,"c":"p"},{"x":645,"h":4630,"c":"p"},{"x":646,"h":1830,"c":"p"},{"x":647,"h":3440,"c":"p"},{"x":648,"h":3440,"c":"p"},{"x":649,"h":2440,"c":"k"},
{"x":650,"h":3440,"c":"p"},{"x":651,"h":2140,"c":"p"},{"x":652,"h":3140,"c":"p"},{"x":653,"h":2940,"c":"p"},{"x":654,"h":3250,"c":"k"},{"x":655,"h":2140,"c":"p"},{"x":656,"h":2100,"c":"k","u":1},{"x":657,"h":2640,"c":"k"},{"x":658,"h":2940,"c":"k"},{"x":659,"h":2140,"c":"k"},
{"x":660,"h":2140,"c":"k"},{"x":661,"h":3740,"c":"k"},{"x":662,"h":1650,"c":"p"},{"x":663,"h":4130,"c":"p"},{"x":664,"h":3230,"c":"k"},{"x":665,"h":2340,"c":"k"},{"x":666,"h":2640,"c":"k"},{"x":667,"h":2440,"c":"p"},{"x":668,"h":2440,"c":"p"},{"x":669,"h":3640,"c":"p"},
{"x":670,"h":2440,"c":"k"},{"x":671,"h":3930,"c":"p"},{"x":672,"h":2440,"c":"p"},{"x":673,"h":2440,"c":"k"},{"x":674,"h":2240,"c":"p"},{"x":675,"h":4130,"c":"p"},{"x":676,"h":2840,"c":"p"},{"x":677,"h":2240,"c":"k"},{"x":678,"h":2440,"c":"k"},{"x":679,"h":2440,"c":"k"},
{"x":680,"h":1830,"c":"p"},{"x":681,"h":3540,"c":"p"},{"x":682,"h":2740,"c":"p"},{"x":683,"h":2740,"c":"p"},{"x":684,"h":1830,"c":"p"},{"x":685,"h":2100,"c":"k","u":1},{"x":686,"h":1540,"c":"p"},{"x":687,"h":3140,"c":"p"},{"x":688,"h":3140,"c":"p"},{"x":689,"h":2640,"c":"p"},
{"x":690,"h":2640,"c":"p"},{"x":691,"h":2140,"c":"k"},{"x":692,"h":2640,"c":"p"},{"x":693,"h":2840,"c":"p"},{"x":694,"h":2940,"c":"k"},{"x":695,"h":1540,"c":"p"},{"x":696,"h":1930,"c":"p"},{"x":697,"h":2140,"c":"p"},{"x":698,"h":2840,"c":"p"},{"x":699,"h":3040,"c":"p"},
{"x":700,"h":2340,"c":"p"},{"x":701,"h":1540,"c":"p"},{"x":702,"h":2340,"c":"p"},{"x":703,"h":2240,"c":"p"},{"x":704,"h":2240,"c":"p"},{"x":705,"h":2100,"c":"k","u":1},{"x":706,"h":2440,"c":"p"},{"x":707,"h":1540,"c":"p"},{"x":708,"h":3640,"c":"p"},{"x":709,"h":2840,"c":"p"},
{"x":710,"h":3850,"c":"p"},{"x":711,"h":2940,"c":"p"},{"x":712,"h":4430,"c":"k"},{"x":713,"h":1540,"c":"p"},{"x":714,"h":2140,"c":"k"},{"x":715,"h":2840,"c":"p"},{"x":716,"h":2140,"c":"k"},{"x":717,"h":2840,"c":"p"},{"x":718,"h":2440,"c":"k"},{"x":719,"h":2440,"c":"k"},
{"x":720,"h":2240,"c":"p"},{"x":721,"h":3440,"c":"p"},{"x":722,"h":2440,"c":"p"},{"x":723,"h":2340,"c":"k"},{"x":724,"h":2340,"c":"p"},{"x":725,"h":2240,"c":"p"},{"x":726,"h":2240,"c":"k"},{"x":727,"h":2640,"c":"p"},{"x":728,"h":2740,"c":"k"},{"x":729,"h":2340,"c":"p"},
{"x":730,"h":2440,"c":"p"},{"x":731,"h":1830,"c":"k"},{"x":732,"h":2240,"c":"k"},{"x":733,"h":2140,"c":"p"},{"x":734,"h":2440,"c":"p"},{"x":735,"h":2340,"c":"p"},{"x":736,"h":2640,"c":"k"},{"x":737,"h":3140,"c":"p"},{"x":738,"h":2440,"c":"p"},{"x":739,"h":2100,"c":"k","u":1},
{"x":740,"h":2100,"c":"k","u":1},{"x":741,"h":2340,"c":"k"},{"x":742,"h":2340,"c":"p"},{"x":743,"h":2440,"c":"p"},{"x":744,"h":2640,"c":"p"},{"x":745,"h":1830,"c":"p"},{"x":746,"h":2840,"c":"p"},{"x":747,"h":1740,"c":"p"},{"x":748,"h":2640,"c":"p"},{"x":749,"h":2640,"c":"p"}
]
},
"vconcat": [
{
"width": 1081, "height": 49,
"layer": [
{"data": {"name": "years"}, "mark": {"type": "rect", "fill": "#ebf1fd", "stroke": "#1a1a1a", "strokeWidth": 1},
 "encoding": {"x": {"field": "s", "type": "quantitative", "scale": {"domain": [-0.7, 750], "nice": false, "zero": false}, "axis": null}, "x2": {"field": "e"},
  "y": {"datum": 1, "type": "quantitative", "scale": {"domain": [0, 2], "nice": false, "zero": false}, "axis": null}, "y2": {"datum": 2}}},
{"data": {"name": "months"}, "mark": {"type": "rect", "fill": "#ebf1fd", "stroke": "#1a1a1a", "strokeWidth": 1},
 "encoding": {"x": {"field": "s", "type": "quantitative"}, "x2": {"field": "e"}, "y": {"datum": 0, "type": "quantitative"}, "y2": {"datum": 1}}},
{"data": {"name": "years"}, "transform": [{"calculate": "(datum.s + datum.e) / 2", "as": "m"}],
 "mark": {"type": "text", "fontSize": 23, "baseline": "middle", "align": "center", "color": "black"},
 "encoding": {"x": {"field": "m", "type": "quantitative"}, "y": {"datum": 1.5, "type": "quantitative"}, "text": {"field": "t"}}},
{"data": {"name": "months"}, "transform": [{"calculate": "(datum.s + datum.e) / 2", "as": "m"}],
 "mark": {"type": "text", "fontSize": 23, "baseline": "middle", "align": "center", "color": "black"},
 "encoding": {"x": {"field": "m", "type": "quantitative"}, "y": {"datum": 0.5, "type": "quantitative"}, "text": {"field": "t"}}}
]
},
{
"width": 1081, "height": 433,
"layer": [
{"data": {"name": "t20"}, "mark": {"type": "area", "interpolate": "monotone", "clip": true},
 "encoding": {
  "x": {"field": "x", "type": "quantitative", "title": "Event number", "scale": {"domain": [-0.7, 750], "nice": false, "zero": false}, "axis": {"values": [0,100,200,300,400,500,600,700], "format": "d", "title": "Event number"}},
  "y": {"datum": 10000, "type": "quantitative", "title": "Height above sea level [m]", "scale": {"domain": [1117, 10000], "nice": false, "zero": false}, "axis": {"values": [2000,4000,6000,8000,10000], "format": "d", "title": "Height above sea level [m]"}},
  "y2": {"datum": 1117},
  "color": {"datum": "a20", "type": "nominal", "title": null,
   "scale": {"domain": ["a20","a10","a0","ap","p","k","g","u"], "range": ["#ebf1fd","#dae6fd","#bbd4fd","#9dc1fc","#dd1a68","#111111","#62717b","#111111"]},
   "legend": {"title": null,
    "labelExpr": "({'a20':'≤-20°C','a10':'≤-10°C','a0':'≤0°C','ap':'>0°C','p':'Discharges detected by sensor','k':'No discharges detected by sensor','g':'No sensor data available','u':'Unknown plume height'})[datum.value]",
    "encoding": {"symbols": {
     "shape": {"value": {"expr": "indexof(['a20','a10','a0','ap'], datum.value) >= 0 ? 'M-1,-0.7L1,-0.7L1,0.7L-1,0.7Z' : 'stroke'"}},
     "fill": {"value": {"expr": "indexof(['a20','a10','a0','ap'], datum.value) >= 0 ? scale('color', datum.value) : 'transparent'"}},
     "stroke": {"value": {"expr": "indexof(['a20','a10','a0','ap'], datum.value) >= 0 ? 'transparent' : scale('color', datum.value)"}},
     "strokeDash": {"value": {"expr": "datum.value === 'u' ? [4.5, 2.5] : [1, 0]"}},
     "strokeWidth": {"value": 2},
     "opacity": {"value": 1}
    }}
   }}
 }},
{"data": {"name": "t20"}, "mark": {"type": "area", "interpolate": "monotone", "clip": true},
 "encoding": {"x": {"field": "x", "type": "quantitative", "title": "Event number"}, "y": {"field": "h", "type": "quantitative", "title": "Height above sea level [m]"}, "y2": {"datum": 1117}, "color": {"datum": "a10", "type": "nominal", "title": null}}},
{"data": {"name": "t10"}, "mark": {"type": "area", "interpolate": "monotone", "clip": true},
 "encoding": {"x": {"field": "x", "type": "quantitative", "title": "Event number"}, "y": {"field": "h", "type": "quantitative", "title": "Height above sea level [m]"}, "y2": {"datum": 1117}, "color": {"datum": "a0", "type": "nominal", "title": null}}},
{"data": {"name": "t0"}, "mark": {"type": "area", "interpolate": "monotone", "clip": true},
 "encoding": {"x": {"field": "x", "type": "quantitative", "title": "Event number"}, "y": {"field": "h", "type": "quantitative", "title": "Height above sea level [m]"}, "y2": {"datum": 1117}, "color": {"datum": "ap", "type": "nominal", "title": null}}},
{"data": {"name": "bars"}, "transform": [{"filter": "!datum.u"}], "mark": {"type": "rule", "strokeWidth": 1.4, "clip": true},
 "encoding": {"x": {"field": "x", "type": "quantitative", "title": "Event number"}, "y": {"field": "h", "type": "quantitative", "title": "Height above sea level [m]"}, "y2": {"datum": 1117}, "color": {"field": "c", "type": "nominal", "title": null}}},
{"data": {"name": "bars"}, "transform": [{"filter": "datum.u"}], "mark": {"type": "rule", "strokeWidth": 1.4, "strokeDash": [4.5, 2.5], "clip": true},
 "encoding": {"x": {"field": "x", "type": "quantitative", "title": "Event number"}, "y": {"field": "h", "type": "quantitative", "title": "Height above sea level [m]"}, "y2": {"datum": 1117}, "color": {"field": "c", "type": "nominal", "title": null}}}
]
}
],
"config": {
 "font": "Liberation Serif",
 "view": {"stroke": "black", "strokeWidth": 1},
 "axis": {"labelFontSize": 25, "titleFontSize": 27, "titleFontWeight": "normal", "labelColor": "black", "titleColor": "black", "tickColor": "black", "tickSize": 6, "domain": false, "grid": false, "labelPadding": 4, "titlePadding": 10, "labelFlush": false, "labelOverlap": false},
 "axisX": {"labelPadding": 2, "titlePadding": 3},
 "legend": {"orient": "none", "legendX": 0, "legendY": -73, "columns": 4, "columnPadding": 72, "rowPadding": 2, "symbolSize": 625, "symbolStrokeWidth": 2, "labelFontSize": 24, "labelOffset": 12, "labelLimit": 600, "padding": 6, "strokeColor": "#cccccc", "cornerRadius": 4, "fillColor": "white", "gridAlign": "each", "labelColor": "black"}
}
}
